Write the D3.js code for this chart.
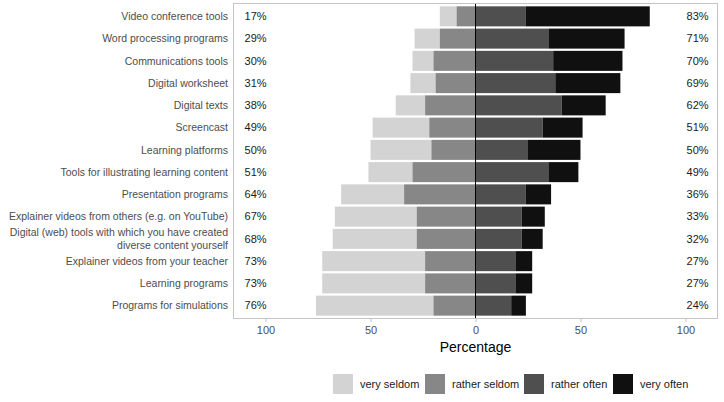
<!DOCTYPE html>
<html>
<head>
<meta charset="utf-8">
<script src="https://cdn.jsdelivr.net/npm/d3@7"></script>
<style>
  body { margin: 0; background: #fff; }
  svg { display: block; font-family: "Liberation Sans", Arial, sans-serif; }
</style>
</head>
<body>
<svg id="chart" width="724" height="402"></svg>
<script>
const categories = [
  "Video conference tools",
  "Word processing programs",
  "Communications tools",
  "Digital worksheet",
  "Digital texts",
  "Screencast",
  "Learning platforms",
  "Tools for illustrating learning content",
  "Presentation programs",
  "Explainer videos from others (e.g. on YouTube)",
  "Digital (web) tools with which you have created\ndiverse content yourself",
  "Explainer videos from your teacher",
  "Learning programs",
  "Programs for simulations"
];
const verySeldom   = [8, 12, 10, 12, 14, 27, 29, 21, 30, 39, 40, 49, 49, 56];
const ratherSeldom = [9, 17, 20, 19, 24, 22, 21, 30, 34, 28, 28, 24, 24, 20];
const ratherOften  = [24, 35, 37, 38, 41, 32, 25, 35, 24, 22, 22, 19, 19, 17];
const veryOften    = [59, 36, 33, 31, 21, 19, 25, 14, 12, 11, 10, 8, 8, 7];
const leftLabels   = ["17%","29%","30%","31%","38%","49%","50%","51%","64%","67%","68%","73%","73%","76%"];
const rightLabels  = ["83%","71%","70%","69%","62%","51%","50%","49%","36%","33%","32%","27%","27%","24%"];
const seriesNames  = ["very seldom", "rather seldom", "rather often", "very often"];
const seriesColors = ["#d3d3d3", "#878787", "#4f4f4f", "#101010"];
const xTicks = [-100, -50, 0, 50, 100];
const xTickLabels = ["100", "50", "0", "50", "100"];

const svg = d3.select("#chart");
const panel = { left: 233, right: 718, top: 3, bottom: 319 };

const x = d3.scaleLinear().domain([-115.5, 115.5]).range([panel.left, panel.right]);
const y = d3.scalePoint().domain(d3.range(categories.length)).range([panel.top, panel.bottom]).padding(0.6);
const barH = y.step() * 0.9;

// stacked segments
const segs = [];
categories.forEach((c, i) => {
  const vs = verySeldom[i], rs = ratherSeldom[i], ro = ratherOften[i], vo = veryOften[i];
  segs.push({ i, s: 0, x0: -(vs + rs), x1: -rs });
  segs.push({ i, s: 1, x0: -rs, x1: 0 });
  segs.push({ i, s: 2, x0: 0, x1: ro });
  segs.push({ i, s: 3, x0: ro, x1: ro + vo });
});

svg.append("rect")
  .attr("x", panel.left).attr("y", panel.top)
  .attr("width", panel.right - panel.left).attr("height", panel.bottom - panel.top)
  .attr("fill", "#fff");

svg.append("g").selectAll("rect").data(segs).join("rect")
  .attr("x", d => x(d.x0))
  .attr("width", d => x(d.x1) - x(d.x0))
  .attr("y", d => y(d.i) - barH / 2)
  .attr("height", barH)
  .attr("fill", d => seriesColors[d.s]);

// zero line
svg.append("line")
  .attr("x1", x(0)).attr("x2", x(0))
  .attr("y1", panel.top).attr("y2", panel.bottom)
  .attr("stroke", "#000").attr("stroke-width", 1);

// percentage labels
svg.append("g").selectAll("text").data(leftLabels).join("text")
  .attr("x", x(-110)).attr("y", (d, i) => y(i))
  .attr("dy", "0.35em").attr("font-size", 11).attr("fill", "#1a1a1a")
  .text(d => d);
svg.append("g").selectAll("text").data(rightLabels).join("text")
  .attr("x", x(111)).attr("y", (d, i) => y(i))
  .attr("dy", "0.35em").attr("font-size", 11).attr("fill", "#1a1a1a")
  .attr("text-anchor", "end")
  .text(d => d);

// panel border
svg.append("rect")
  .attr("x", panel.left + 0.5).attr("y", panel.top + 0.5)
  .attr("width", panel.right - panel.left - 1).attr("height", panel.bottom - panel.top - 1)
  .attr("fill", "none").attr("stroke", "#c4c4c4").attr("stroke-width", 1);

// y axis labels
const yl = svg.append("g");
categories.forEach((c, i) => {
  const lines = c.split("\n");
  const t = yl.append("text")
    .attr("x", 228).attr("y", y(i))
    .attr("text-anchor", "end").attr("font-size", 10.5).attr("fill", "#4d4d4d");
  lines.forEach((ln, k) => {
    t.append("tspan").attr("x", 228)
      .attr("dy", k === 0 ? (0.35 - (lines.length - 1) * 0.6) + "em" : "1.2em")
      .text(ln);
  });
});

// x axis
const xAxis = d3.axisBottom(x).tickValues(xTicks).tickFormat((d, i) => xTickLabels[i]).tickSize(3).tickPadding(4);
const gx = svg.append("g").attr("transform", `translate(0,${panel.bottom})`).call(xAxis);
gx.select(".domain").remove();
gx.selectAll(".tick line").attr("stroke", "#c4c4c4");
gx.selectAll(".tick text").attr("font-size", 11).attr("fill", "#4d4d4d")
  .attr("font-family", "Liberation Sans, Arial, sans-serif");

svg.append("text")
  .attr("x", x(0)).attr("y", 352)
  .attr("text-anchor", "middle").attr("font-size", 14).attr("fill", "#000")
  .text("Percentage");

// legend
const legendX = [333, 425, 524, 613];
const lg = svg.append("g");
seriesNames.forEach((n, k) => {
  lg.append("rect").attr("x", legendX[k]).attr("y", 374).attr("width", 20).attr("height", 20)
    .attr("fill", seriesColors[k]);
  lg.append("text").attr("x", legendX[k] + 27).attr("y", 384).attr("dy", "0.35em")
    .attr("font-size", 11).attr("fill", "#1a1a1a").text(n);
});
</script>
</body>
</html>
